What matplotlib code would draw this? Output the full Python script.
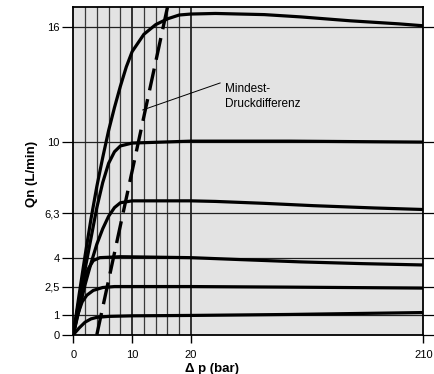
import numpy as np
import matplotlib
matplotlib.use("Agg")
import matplotlib.pyplot as plt

plt.rcParams["font.family"] = ["Liberation Sans", "DejaVu Sans"]
plt.rcParams["lines.scale_dashes"] = False

# flow curves, values (x = delta p in bar, y = Qn in L/min)
p_16 = [0, 1, 2, 3, 4, 5, 6, 7, 8, 9, 10, 12, 14, 16, 18, 20, 40, 80, 110, 150, 190, 210]
q_16 = [0, 2.1, 4.1, 6.0, 7.7, 9.2, 10.6, 11.8, 12.9, 13.9, 14.7, 15.6, 16.1, 16.4, 16.6, 16.65,
        16.68, 16.62, 16.5, 16.3, 16.14, 16.04]

p_10 = [0, 1, 2, 3, 4, 5, 6, 7, 8, 10, 20, 100, 210]
q_10 = [0, 1.7, 3.4, 5.0, 6.6, 7.9, 8.9, 9.5, 9.8, 9.95, 10.05, 10.05, 10.0]

p_63 = [0, 1, 2, 3, 4, 5, 6, 7, 8, 10, 20, 40, 80, 120, 170, 210]
q_63 = [0, 1.3, 2.6, 3.7, 4.7, 5.5, 6.15, 6.6, 6.85, 6.95, 6.95, 6.92, 6.82, 6.7, 6.58, 6.5]

p_4 = [0, 0.8, 1.7, 2.5, 3.4, 4.5, 8, 20, 60, 110, 160, 210]
q_4 = [0, 1.5, 2.7, 3.4, 3.85, 4.0, 4.05, 4.0, 3.9, 3.78, 3.69, 3.62]

p_25 = [0, 0.7, 1.5, 2.3, 3.4, 5, 7, 20, 100, 210]
q_25 = [0, 1.0, 1.7, 2.05, 2.3, 2.45, 2.5, 2.5, 2.47, 2.42]

p_1 = [0, 1, 2, 3, 4, 6, 10, 20, 100, 210]
q_1 = [0, 0.35, 0.65, 0.82, 0.9, 0.95, 0.98, 1.0, 1.05, 1.15]

# minimum pressure difference (dashed)
p_min = [4, 16]
q_min = [0, 17]

y_ticks = [0, 1, 2.5, 4, 6.3, 10, 16]
y_labels = ["0", "1", "2,5", "4", "6,3", "10", "16"]
x_ticks = [0, 10, 20, 210]
x_labels = ["0", "10", "20", "210"]
x_minor = [2, 4, 6, 8, 12, 14, 16, 18]

# piecewise linear x axis: 0-20 bar stretched, 20-210 compressed
xp = [-1000, 0, 20, 210, 2000]
xs = [-5885, 0, 117.7, 350, 350 + 1790 * 232.3 / 190]


def fwd(x):
    return np.interp(x, xp, xs)


def inv(x):
    return np.interp(x, xs, xp)


fig = plt.figure(figsize=(4.35, 3.74), dpi=100)
ax = fig.add_axes([0.1685, 0.1051, 0.8046, 0.8754])
ax.set_xscale("function", functions=(fwd, inv))
ax.set_facecolor("#e3e3e3")
ax.set_xlim(0, 210)
ax.set_ylim(0, 17)

for xm in x_minor:
    ax.axvline(xm, color="#3a3a3a", lw=0.9, zorder=1)
for xm in [10, 20]:
    ax.axvline(xm, color="black", lw=1.1, zorder=1)
for yv in y_ticks[1:]:
    ax.axhline(yv, color="#222222", lw=0.9, zorder=1)

for p, q in [(p_16, q_16), (p_10, q_10), (p_63, q_63), (p_4, q_4), (p_25, q_25), (p_1, q_1)]:
    ax.plot(p, q, color="black", lw=2.3, solid_joinstyle="round", solid_capstyle="round", zorder=3)

ax.plot(p_min, q_min, color="black", lw=2.4, dashes=(16, 6.5), zorder=3)

# leader line and label
ax.plot([11.8, 43.8], [11.67, 13.07], color="black", lw=0.7, zorder=3)
ax.text(47.9, 12.35, "Mindest-\nDruckdifferenz", fontsize=8.5, va="center", ha="left",
        linespacing=1.3, zorder=4)

ax.set_yticks(y_ticks)
ax.set_yticklabels(y_labels, fontsize=8)
ax.set_xticks(x_ticks)
ax.set_xticklabels(x_labels, fontsize=8)
ax.tick_params(axis="y", direction="out", length=8, width=0.9, pad=2, right=True)
ax.tick_params(axis="x", direction="out", length=6, width=1.0, pad=5)
ax.minorticks_off()

for s in ax.spines.values():
    s.set_linewidth(1.3)
    s.set_color("black")

ax.set_xlabel("\u0394 p (bar)", fontsize=9.5, fontweight="bold", labelpad=0)
ax.xaxis.set_label_coords(0.395, -0.085)
ax.set_ylabel("Qn (L/min)", fontsize=9.5, fontweight="bold")
ax.yaxis.set_label_coords(-0.1, 0.49)

fig.savefig("out.png", dpi=100)
